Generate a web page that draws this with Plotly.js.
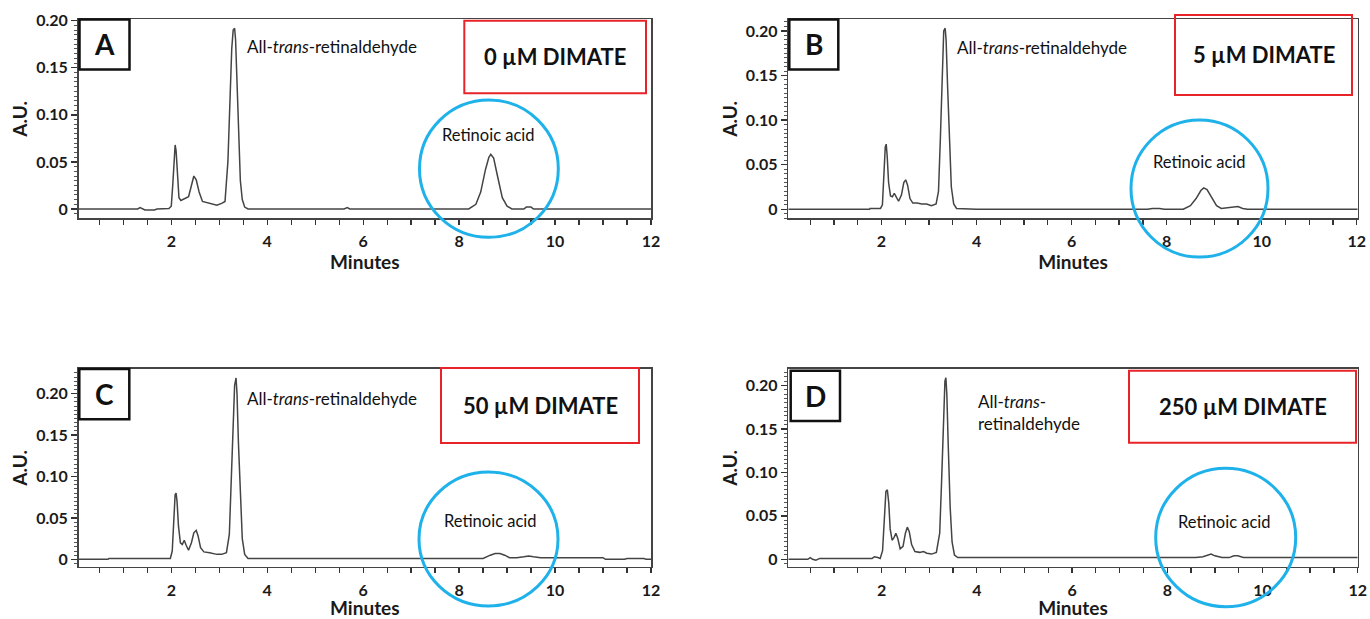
<!DOCTYPE html>
<html>
<head>
<meta charset="utf-8">
<script src="https://cdn.plot.ly/plotly-3.0.1.min.js"></script>
<style>html,body{margin:0;padding:0;background:#fff;}#chart{width:1370px;height:619px;}</style>
</head>
<body>
<div id="chart"></div>
<script>
// ---- Data (time in minutes, absorbance in A.U.) ----
const timeA = [0.07,1.30,1.35,1.40,1.45,1.65,1.70,1.95,2.00,2.03,2.06,2.08,2.10,2.13,2.16,2.20,2.28,2.36,2.42,2.47,2.52,2.58,2.65,2.80,2.95,3.05,3.12,3.18,3.22,3.26,3.29,3.32,3.34,3.37,3.40,3.44,3.48,3.53,3.60,4.00,5.60,5.67,5.72,6.00,8.20,8.35,8.45,8.55,8.62,8.66,8.72,8.80,8.90,9.00,9.10,9.35,9.40,9.50,9.55,12.00];
const auA   = [0,0,0.0015,0.0005,-0.001,-0.001,0,0.0005,0.003,0.025,0.060,0.068,0.062,0.030,0.012,0.009,0.011,0.013,0.025,0.035,0.031,0.018,0.008,0.006,0.004,0.006,0.008,0.050,0.110,0.170,0.190,0.192,0.180,0.130,0.080,0.030,0.010,0.002,0,0,0,0.0015,0,0,0,0.005,0.018,0.042,0.055,0.058,0.054,0.035,0.012,0.003,0,0,0.002,0.002,0,0];

const timeB = [0.04,1.75,1.76,1.98,2.02,2.05,2.08,2.10,2.12,2.15,2.19,2.23,2.27,2.31,2.36,2.42,2.47,2.51,2.55,2.60,2.66,2.75,2.85,2.95,3.05,3.15,3.20,3.24,3.28,3.31,3.34,3.36,3.39,3.43,3.47,3.52,3.58,4.00,7.60,7.70,7.85,7.95,8.35,8.50,8.62,8.72,8.78,8.85,8.95,9.05,9.15,9.30,9.40,9.50,9.60,9.70,12.02];
const auB   = [0,0,0.001,0.001,0.005,0.040,0.070,0.073,0.060,0.030,0.015,0.014,0.018,0.014,0.009,0.016,0.030,0.033,0.027,0.012,0.007,0.007,0.006,0.006,0.004,0.006,0.020,0.080,0.160,0.200,0.203,0.190,0.140,0.070,0.025,0.006,0.001,0,0,0.001,0.001,0,0,0.004,0.012,0.021,0.024,0.022,0.013,0.004,0.001,0.002,0.002,0.003,0.001,0,0];

const timeC = [0.07,0.68,0.70,1.98,2.02,2.05,2.08,2.10,2.12,2.15,2.19,2.23,2.27,2.31,2.36,2.42,2.47,2.52,2.56,2.61,2.68,2.80,2.95,3.05,3.15,3.21,3.25,3.29,3.32,3.35,3.37,3.40,3.44,3.48,3.53,3.60,4.00,8.00,8.50,8.65,8.75,8.85,8.95,9.05,9.20,9.35,9.45,9.55,9.70,10.00,11.00,11.05,11.45,11.50,11.85,11.90,12.00];
const auC   = [0,0,0.001,0.001,0.010,0.050,0.078,0.080,0.070,0.040,0.020,0.018,0.023,0.017,0.011,0.020,0.032,0.035,0.028,0.014,0.009,0.008,0.006,0.006,0.008,0.030,0.090,0.170,0.210,0.219,0.200,0.140,0.070,0.025,0.006,0.001,0.001,0.001,0.001,0.005,0.007,0.007,0.005,0.002,0.002,0.003,0.004,0.003,0.002,0.002,0.002,0,0,0.001,0.001,0,0];

const timeD = [0.04,0.45,0.50,0.55,0.62,0.70,1.80,1.85,1.92,1.97,2.02,2.06,2.09,2.12,2.15,2.18,2.22,2.26,2.30,2.34,2.39,2.45,2.50,2.54,2.58,2.63,2.70,2.80,2.88,2.95,3.05,3.15,3.22,3.26,3.30,3.33,3.35,3.37,3.40,3.44,3.48,3.53,3.60,4.00,8.60,8.75,8.85,8.92,9.00,9.15,9.30,9.40,9.48,9.60,12.00];
const auD   = [0,0,0.002,0,-0.001,0.001,0.001,0.003,0.002,0.001,0.010,0.050,0.078,0.080,0.065,0.035,0.022,0.025,0.030,0.024,0.012,0.015,0.030,0.037,0.032,0.017,0.009,0.008,0.009,0.007,0.006,0.008,0.030,0.090,0.170,0.205,0.209,0.190,0.130,0.060,0.020,0.005,0.002,0.002,0.002,0.003,0.005,0.006,0.004,0.002,0.002,0.004,0.004,0.002,0.002];

const panelLetters = ["A","B","C","D"];
const conditions = ["0 µM DIMATE","5 µM DIMATE","50 µM DIMATE","250 µM DIMATE"];
const xTickVals = [2,4,6,8,10,12];
const yTickVals = [0,0.05,0.10,0.15,0.20];
const yTickText = ["0","0.05","0.10","0.15","0.20"];
const xTitle = "Minutes";
const yTitle = "A.U.";
const peakLabel = "Retinoic acid";
const aldehydeLabel = "All-<i>trans</i>-retinaldehyde";
const aldehydeLabelD = "All-<i>trans</i>-<br>retinaldehyde";

// ---- Layout helpers ----
const W = 1370, H = 619;
const px = v => v / W;
const py = v => 1 - v / H;

const FONT = "Lato, 'Open Sans', sans-serif";
const panels = [
  {t: timeA, y: auA, xr: [0.07, 12.0],  yr: [-0.0099, 0.2015], l: 78.7,  r: 651,    top: 19.3, bot: 218.3},
  {t: timeB, y: auB, xr: [0.04, 12.02], yr: [-0.0101, 0.2130], l: 788.3, r: 1357.7, top: 19.3, bot: 218.3},
  {t: timeC, y: auC, xr: [0.07, 12.0],  yr: [-0.0089, 0.2298], l: 78.7,  r: 651,    top: 369,  bot: 566.7},
  {t: timeD, y: auD, xr: [0.04, 12.0],  yr: [-0.0085, 0.2190], l: 788.3, r: 1357.7, top: 369,  bot: 566.7}
];

const data = [];
const layout = {
  width: W, height: H,
  margin: {l: 0, r: 0, t: 0, b: 0},
  paper_bgcolor: "#fff", plot_bgcolor: "#fff",
  showlegend: false,
  font: {family: FONT, color: "#1a1a1a"},
  shapes: [], annotations: []
};

panels.forEach((p, i) => {
  const n = i === 0 ? "" : String(i + 1);
  data.push({
    x: p.t, y: p.y, type: "scatter", mode: "lines",
    line: {color: "#444", width: 1.5},
    xaxis: "x" + n, yaxis: "y" + n, hoverinfo: "skip"
  });
  layout["xaxis" + n] = {
    domain: [px(p.l), px(p.r)], anchor: "y" + n, range: p.xr,
    tickmode: "array", tickvals: xTickVals,
    ticks: "outside", ticklen: 5, tickwidth: 1.3, tickcolor: "#333",
    minor: {tickmode: "linear", tick0: 0, dtick: 0.5, ticks: "outside", ticklen: 5, tickwidth: 1.3, tickcolor: "#333", showgrid: false},
    showline: true, linecolor: "#444", linewidth: 1.6, mirror: true,
    showgrid: false, zeroline: false,
    tickfont: {family: FONT, size: 16, weight: "bold", color: "#1a1a1a"},
    ticklabelstandoff: 3,
    title: {text: xTitle, font: {family: FONT, size: 19, weight: "bold", color: "#1a1a1a"}, standoff: 2},
    fixedrange: true
  };
  layout["yaxis" + n] = {
    domain: [py(p.bot), py(p.top)], anchor: "x" + n, range: p.yr,
    tickmode: "array", tickvals: yTickVals, ticktext: yTickText,
    ticks: "outside", ticklen: 6, tickwidth: 1.3, tickcolor: "#333",
    minor: {tickmode: "linear", tick0: 0, dtick: 0.005, ticks: "outside", ticklen: 3, tickwidth: 1, tickcolor: "#555", showgrid: false},
    showline: true, linecolor: "#444", linewidth: 1.6, mirror: true,
    showgrid: false, zeroline: false,
    tickfont: {family: FONT, size: 16, weight: "bold", color: "#1a1a1a"},
    title: {text: yTitle, font: {family: FONT, size: 19, weight: "bold", color: "#1a1a1a"}, standoff: 3},
    fixedrange: true
  };
});

// Decorations: letter boxes, condition boxes, circles, labels (pixel positions)
const letterBoxes = [[79.5,19.5,129.5,69.5],[789.3,19.5,838.3,69.5],[79.3,369,129.3,419.3],[790.7,370.7,840,421]];
const redBoxes = [[464.3,20.7,646,93.3],[1175,15,1352,95],[441,368,639,443],[1129,370.7,1356,442.7]];
const circles = [[419.5,100,558.3,237.3],[1131,120,1268,257],[419,472,558,606],[1155.7,468.3,1295.7,606.7]];
const peakLabelPos = [[488,135],[1199,162],[491,521],[1224.3,522.3]];
const aldPos = [[245,46],[955,47],[245,398],[976,412]];

for (let i = 0; i < 4; i++) {
  const [a,b,c,d] = letterBoxes[i];
  layout.shapes.push({type:"rect", xref:"paper", yref:"paper", x0:px(a), x1:px(c), y0:py(d), y1:py(b), line:{color:"#111", width:2.5}, fillcolor:"rgba(255,255,255,0)"});
  layout.annotations.push({xref:"paper", yref:"paper", x:px((a+c)/2), y:py((b+d)/2), xanchor:"center", yanchor:"middle", showarrow:false, text:panelLetters[i], font:{family:FONT, size:28, weight:"bold", color:"#111"}});
  const [e,f,g,h] = redBoxes[i];
  layout.shapes.push({type:"rect", xref:"paper", yref:"paper", x0:px(e), x1:px(g), y0:py(h), y1:py(f), line:{color:"#e8242a", width:2}, fillcolor:"rgba(255,255,255,0)"});
  layout.annotations.push({xref:"paper", yref:"paper", x:px((e+g)/2), y:py((f+h)/2), xanchor:"center", yanchor:"middle", showarrow:false, text:conditions[i], font:{family:FONT, size:22, weight:"bold", color:"#111"}});
  const [k,l,m,o] = circles[i];
  layout.shapes.push({type:"circle", xref:"paper", yref:"paper", x0:px(k), x1:px(m), y0:py(o), y1:py(l), line:{color:"#1fb2ea", width:3}});
  layout.annotations.push({xref:"paper", yref:"paper", x:px(peakLabelPos[i][0]), y:py(peakLabelPos[i][1]), xanchor:"center", yanchor:"middle", showarrow:false, text:peakLabel, font:{family:FONT, size:16.5, color:"#111"}});
  layout.annotations.push({xref:"paper", yref:"paper", x:px(aldPos[i][0]), y:py(aldPos[i][1]), xanchor:"left", yanchor:"middle", align:"left", showarrow:false, text: i === 3 ? aldehydeLabelD : aldehydeLabel, font:{family:FONT, size:17, color:"#111"}});
}

Plotly.newPlot("chart", data, layout, {staticPlot: true, displayModeBar: false});
</script>
</body>
</html>
